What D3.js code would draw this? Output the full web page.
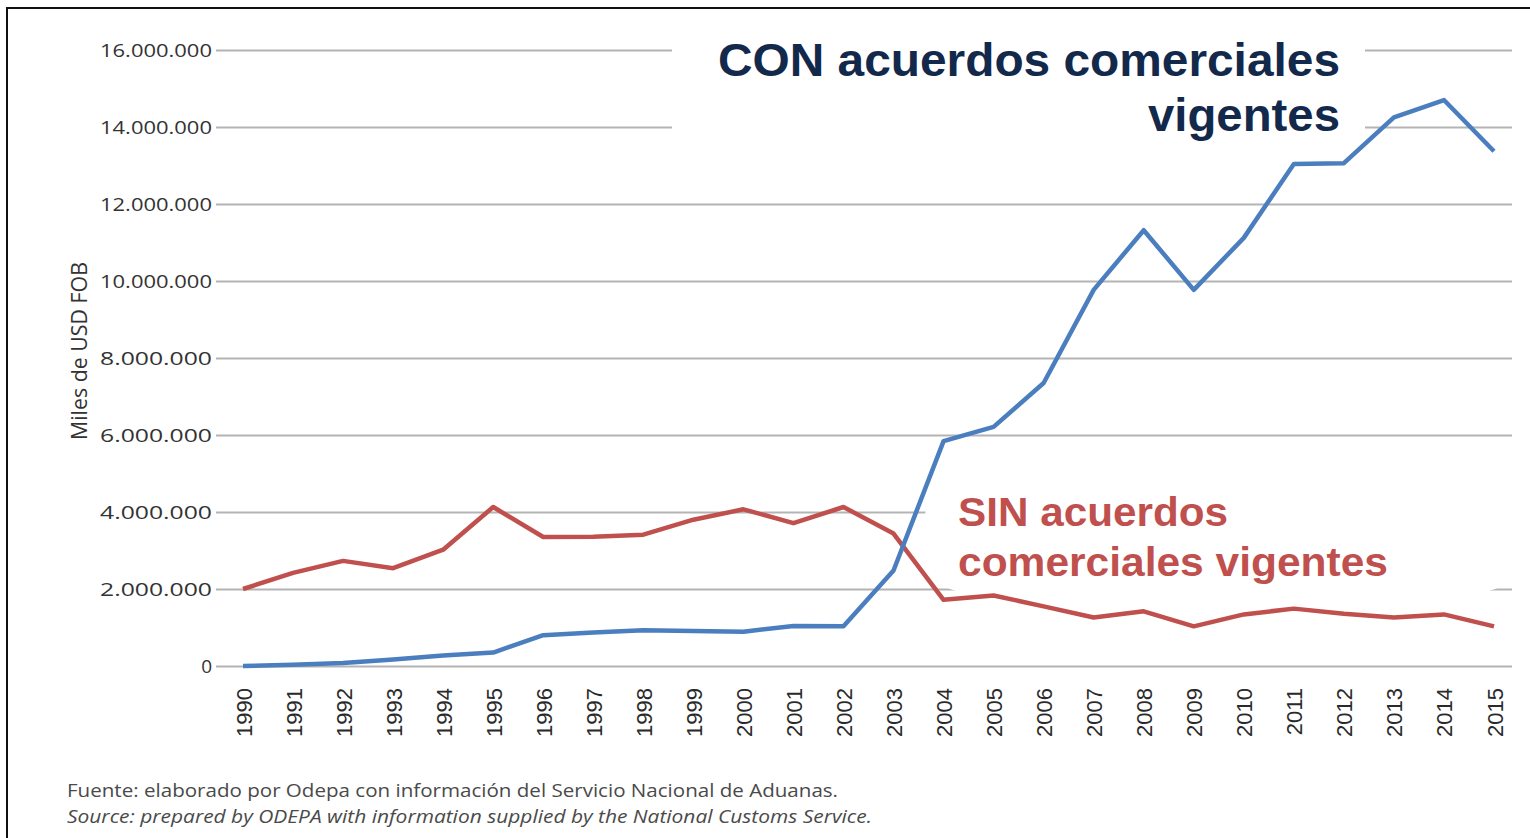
<!DOCTYPE html>
<html><head><meta charset="utf-8">
<script src="https://cdn.jsdelivr.net/npm/d3@7"></script>
<style>html,body{margin:0;padding:0;background:#fff;overflow:hidden}</style>
</head><body>
<svg id="c" width="1530" height="838"></svg>
<script>
const years = [1990,1991,1992,1993,1994,1995,1996,1997,1998,1999,2000,2001,2002,2003,2004,2005,2006,2007,2008,2009,2010,2011,2012,2013,2014,2015];
const conAcuerdos = [0,30000,80000,170000,270000,350000,800000,870000,930000,910000,890000,1040000,1030000,2480000,5840000,6210000,7350000,9770000,11320000,9770000,11120000,13040000,13060000,14250000,14700000,13370000];
const sinAcuerdos = [2000000,2420000,2730000,2540000,3020000,4130000,3350000,3360000,3410000,3800000,4070000,3710000,4130000,3440000,1720000,1830000,1550000,1260000,1420000,1030000,1340000,1490000,1360000,1260000,1340000,1030000];
const yTicks = [0,2000000,4000000,6000000,8000000,10000000,12000000,14000000,16000000];
const yAxisTitle = "Miles de USD FOB";
const conLabel = ["CON acuerdos comerciales","vigentes"];
const sinLabel = ["SIN acuerdos","comerciales vigentes"];
const footer = ["Fuente: elaborado por Odepa con información del Servicio Nacional de Aduanas.",
                "Source: prepared by ODEPA with information supplied by the National Customs Service."];

const svg = d3.select("#c");
const x = d3.scaleLinear().domain([1990,2015]).range([243,1494]);
const y = d3.scaleLinear().domain([0,16000000]).range([666,50]);
const loc = d3.formatLocale({decimal:",", thousands:".", grouping:[3], currency:["$",""]});
const fmt = loc.format(",d");

// frame
svg.append("rect").attr("x",7).attr("y",8).attr("width",1540).attr("height",850)
  .attr("fill","none").attr("stroke","#111").attr("stroke-width",2);

// gridlines + y labels
const yAxis = d3.axisLeft(y).tickValues(yTicks).tickFormat(fmt).tickSize(-(1512-216)).tickPadding(5);
const ga = svg.append("g").attr("transform","translate(216,0)").call(yAxis);
ga.select(".domain").remove();
ga.selectAll(".tick line").attr("stroke","#b4b4b4").attr("stroke-width",2);
ga.selectAll(".tick text").attr("font-family","'Open Sans'").attr("font-size",19)
  .attr("fill","#333").attr("x",-4).attr("textLength",112).attr("lengthAdjust","spacingAndGlyphs");
ga.selectAll(".tick").filter(d=>d===0).select("text").attr("textLength",null);

// x labels
const xAxis = d3.axisBottom(x).tickValues(years).tickFormat(d=>d).tickSize(0);
const gx = svg.append("g").attr("transform","translate(0,666)").call(xAxis);
gx.select(".domain").remove();
gx.selectAll(".tick text").attr("font-family","'Liberation Sans',Arial").attr("font-size",22)
  .attr("fill","#2a2a2a").attr("text-anchor","end").attr("dy",null)
  .attr("transform","translate(8,22) rotate(-90)").attr("y",0).attr("x",0);

// y title
svg.append("text").attr("transform","translate(87,351) rotate(-90)").attr("text-anchor","middle")
  .attr("font-family","'Open Sans'").attr("font-size",21).attr("fill","#333").attr("textLength",178)
  .attr("lengthAdjust","spacingAndGlyphs").text(yAxisTitle);

// white annotation boxes
svg.append("rect").attr("x",672).attr("y",22).attr("width",693).attr("height",122).attr("fill","#fff");
svg.append("rect").attr("x",925).attr("y",478).attr("width",595).attr("height",114).attr("rx",40).attr("fill","#fff");

// lines
const line = d3.line().x((d,i)=>x(years[i])).y(d=>y(d));
svg.append("path").datum(sinAcuerdos).attr("d",line).attr("fill","none")
  .attr("stroke","#c0504d").attr("stroke-width",4.5).attr("stroke-linejoin","round");
svg.append("path").datum(conAcuerdos).attr("d",line).attr("fill","none")
  .attr("stroke","#4a7ebf").attr("stroke-width",4.5).attr("stroke-linejoin","round");

// annotations
svg.append("text").attr("x",1340).attr("y",76).attr("text-anchor","end")
  .attr("font-family","'Liberation Sans',Arial").attr("font-weight","bold").attr("font-size",46)
  .attr("fill","#13294b").attr("textLength",622).attr("lengthAdjust","spacingAndGlyphs").text(conLabel[0]);
svg.append("text").attr("x",1340).attr("y",131).attr("text-anchor","end")
  .attr("font-family","'Liberation Sans',Arial").attr("font-weight","bold").attr("font-size",46)
  .attr("fill","#13294b").attr("textLength",192).attr("lengthAdjust","spacingAndGlyphs").text(conLabel[1]);
svg.append("text").attr("x",958).attr("y",526)
  .attr("font-family","'Liberation Sans',Arial").attr("font-weight","bold").attr("font-size",40)
  .attr("fill","#c0504d").attr("textLength",270).attr("lengthAdjust","spacingAndGlyphs").text(sinLabel[0]);
svg.append("text").attr("x",958).attr("y",576)
  .attr("font-family","'Liberation Sans',Arial").attr("font-weight","bold").attr("font-size",40)
  .attr("fill","#c0504d").attr("textLength",430).attr("lengthAdjust","spacingAndGlyphs").text(sinLabel[1]);

// footer
svg.append("text").attr("x",67).attr("y",797).attr("font-family","'Open Sans'").attr("font-size",19)
  .attr("fill","#4a4a4a").attr("textLength",771).attr("lengthAdjust","spacingAndGlyphs").text(footer[0]);
svg.append("text").attr("x",67).attr("y",823).attr("font-family","'Open Sans'").attr("font-size",19)
  .attr("font-style","italic").attr("fill","#4a4a4a").attr("textLength",805).attr("lengthAdjust","spacingAndGlyphs").text(footer[1]);
</script>
</body></html>
